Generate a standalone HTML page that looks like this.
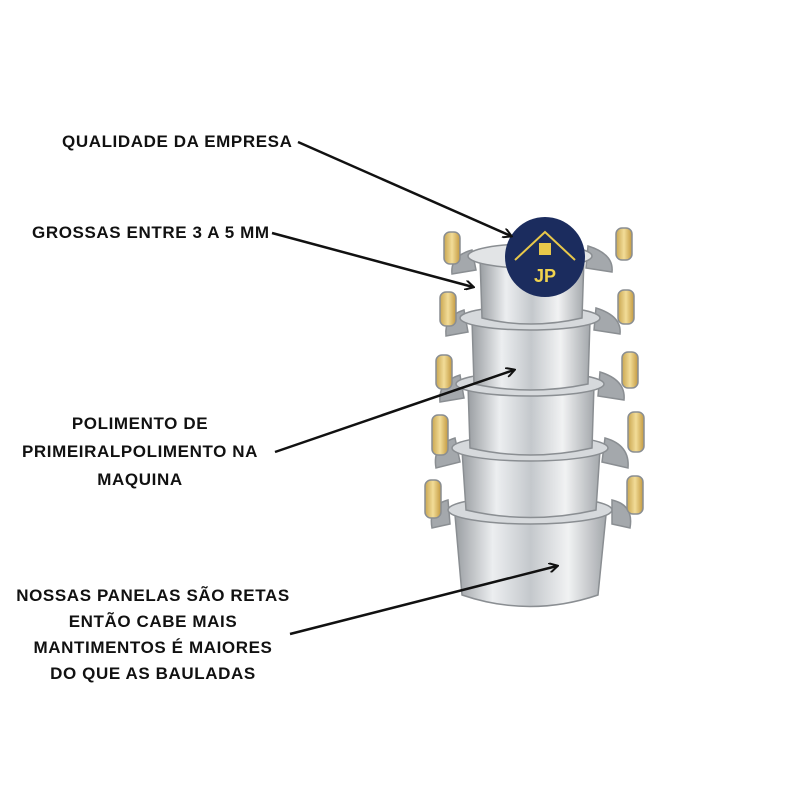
<!DOCTYPE html>
<html><head><style>
body{margin:0;width:800px;height:800px;background:#fff;overflow:hidden;position:relative;font-family:"Liberation Sans",sans-serif}
.t{position:absolute;font-weight:bold;font-size:17px;color:#111;letter-spacing:0.6px;text-align:center;line-height:28px;white-space:nowrap}
</style></head><body>
<svg width="800" height="800" style="position:absolute;left:0;top:0">
<defs>
<linearGradient id="m" x1="0" x2="1"><stop offset="0" stop-color="#9a9ea2"/><stop offset="0.25" stop-color="#eceef0"/><stop offset="0.5" stop-color="#c4c8cc"/><stop offset="0.75" stop-color="#f1f2f3"/><stop offset="1" stop-color="#a4a8ac"/></linearGradient>
<linearGradient id="w" x1="0" x2="1"><stop offset="0" stop-color="#c9a650"/><stop offset="0.5" stop-color="#f2dc98"/><stop offset="1" stop-color="#c39a40"/></linearGradient>
<marker id="a" markerWidth="10" markerHeight="10" refX="8" refY="5" orient="auto" markerUnits="userSpaceOnUse"><path d="M0,0 L9,5 L0,10" fill="none" stroke="#111" stroke-width="2"/></marker>
</defs>
<g stroke="#8a8e92" stroke-width="1.5">
<path d="M455 515 L462 595 Q530 618 598 595 L606 515 Z" fill="url(#m)"/>
<path d="M448 500 Q428 505 432 528 L450 524 Z" fill="#a4a8ac"/><rect x="425" y="480" width="16" height="38" rx="6" fill="url(#w)"/>
<path d="M612 500 Q634 505 630 528 L612 524 Z" fill="#a4a8ac"/><rect x="627" y="476" width="16" height="38" rx="6" fill="url(#w)"/>
<ellipse cx="530" cy="510" rx="82" ry="14" fill="#d6d9dc"/>
<path d="M462 450 L466 510 Q530 525 596 510 L600 450 Z" fill="url(#m)"/>
<path d="M455 438 Q432 445 436 468 L460 462Z" fill="#a4a8ac"/><rect x="432" y="415" width="16" height="40" rx="6" fill="url(#w)"/>
<path d="M605 438 Q630 445 628 468 L602 462Z" fill="#a4a8ac"/><rect x="628" y="412" width="16" height="40" rx="6" fill="url(#w)"/>
<ellipse cx="530" cy="448" rx="78" ry="13" fill="#d6d9dc"/>
<path d="M468 385 L470 448 Q530 462 592 448 L594 385 Z" fill="url(#m)"/>
<path d="M460 375 Q438 382 440 402 L464 398Z" fill="#a4a8ac"/><rect x="436" y="355" width="16" height="34" rx="6" fill="url(#w)"/>
<path d="M600 372 Q626 380 624 400 L598 396Z" fill="#a4a8ac"/><rect x="622" y="352" width="16" height="36" rx="6" fill="url(#w)"/>
<ellipse cx="530" cy="384" rx="74" ry="12" fill="#d6d9dc"/>
<path d="M472 320 L474 384 Q530 396 588 384 L590 320 Z" fill="url(#m)"/>
<path d="M464 310 Q444 316 446 336 L468 332Z" fill="#a4a8ac"/><rect x="440" y="292" width="16" height="34" rx="6" fill="url(#w)"/>
<path d="M596 308 Q622 316 620 334 L594 330Z" fill="#a4a8ac"/><rect x="618" y="290" width="16" height="34" rx="6" fill="url(#w)"/>
<ellipse cx="530" cy="318" rx="70" ry="12" fill="#d6d9dc"/>
<path d="M480 258 L482 318 Q530 330 582 318 L584 258 Z" fill="url(#m)"/>
<path d="M472 250 Q450 256 452 274 L476 270Z" fill="#a4a8ac"/><rect x="444" y="232" width="16" height="32" rx="6" fill="url(#w)"/>
<path d="M588 246 Q614 254 612 272 L586 268Z" fill="#a4a8ac"/><rect x="616" y="228" width="16" height="32" rx="6" fill="url(#w)"/>
<ellipse cx="530" cy="256" rx="62" ry="12" fill="#e2e4e6"/>
</g>
<circle cx="545" cy="257" r="40" fill="#1b2c5e"/>
<path d="M515 260 L545 232 L575 260" fill="none" stroke="#e8c84a" stroke-width="2"/>
<rect x="539" y="243" width="12" height="12" fill="#e8c84a"/>
<text x="545" y="282" font-family="Liberation Sans" font-weight="bold" font-size="18" fill="#f0d34e" text-anchor="middle">JP</text>
<g stroke="#111" stroke-width="2.5" fill="none" marker-end="url(#a)">
<line x1="298" y1="142" x2="511" y2="236"/>
<line x1="272" y1="233" x2="473" y2="287"/>
<line x1="275" y1="452" x2="514" y2="370"/>
<line x1="290" y1="634" x2="557" y2="566"/>
</g>
</svg>
<div class="t" style="left:62px;top:128px">QUALIDADE DA EMPRESA</div>
<div class="t" style="left:32px;top:219px">GROSSAS ENTRE 3 A 5 MM</div>
<div class="t" style="left:0;width:280px;top:410px">POLIMENTO DE<br>PRIMEIRALPOLIMENTO NA<br>MAQUINA</div>
<div class="t" style="left:0;width:306px;top:583px;line-height:26px">NOSSAS PANELAS SÃO RETAS<br>ENTÃO CABE MAIS<br>MANTIMENTOS É MAIORES<br>DO QUE AS BAULADAS</div>
</body></html>
